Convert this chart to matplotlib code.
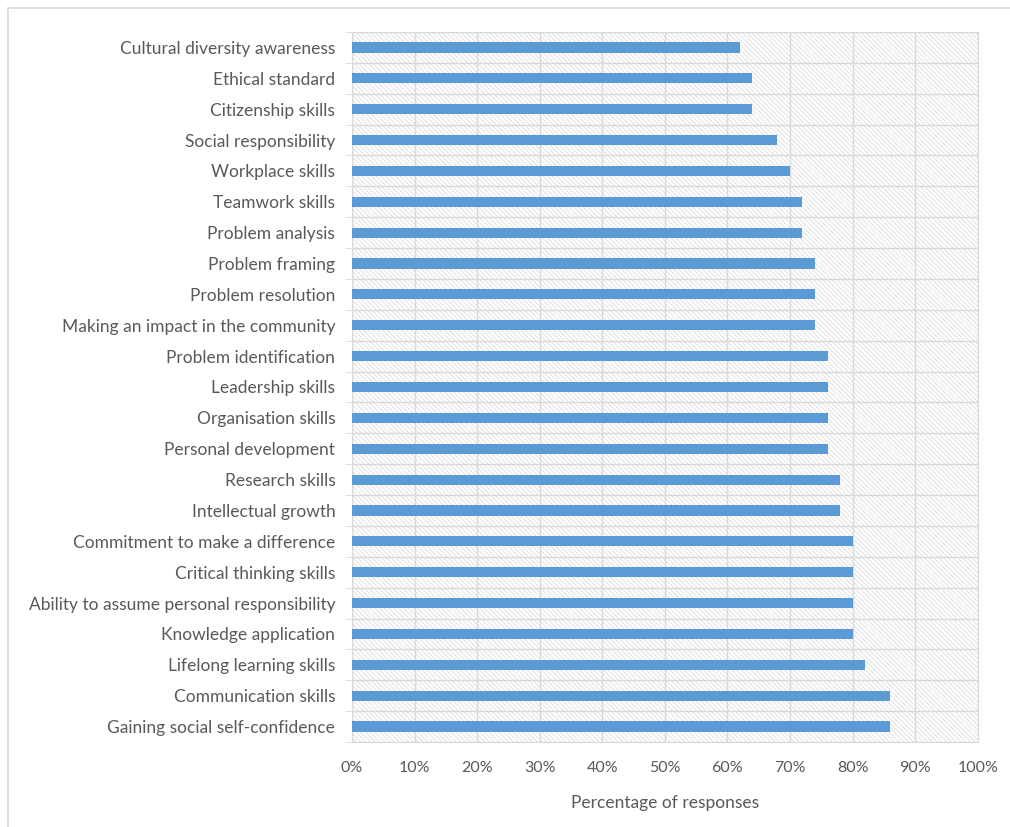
import matplotlib.pyplot as plt
import matplotlib.patches as mpatches
import numpy as np

# categories from top to bottom as shown
skills = ["Cultural diversity awareness", "Ethical standard", "Citizenship skills",
          "Social responsibility", "Workplace skills", "Teamwork skills",
          "Problem analysis", "Problem framing", "Problem resolution",
          "Making an impact in the community", "Problem identification",
          "Leadership skills", "Organisation skills", "Personal development",
          "Research skills", "Intellectual growth", "Commitment to make a difference",
          "Critical thinking skills", "Ability to assume personal responsibility",
          "Knowledge application", "Lifelong learning skills", "Communication skills",
          "Gaining social self-confidence"]
pct = [62, 64, 64, 68, 70, 72, 72, 74, 74, 74, 76, 76, 76, 76, 78, 78,
       80, 80, 80, 80, 82, 86, 86]
xticks = list(range(0, 101, 10))

plt.rcParams['font.family'] = ['Lato', 'DejaVu Sans']
plt.rcParams['hatch.linewidth'] = 0.7
text_col = '#595959'
grid_col = '#d9d9d9'

fig = plt.figure(figsize=(10.10, 8.27), dpi=100)
ax = fig.add_axes([0.3485, 0.1028, 0.6195, 0.8585])

# outer chart border
fig.patches.append(mpatches.Rectangle((8/1010, -0.01), 1.1, 1 - 8/827 + 0.01,
                                      transform=fig.transFigure, fill=False,
                                      edgecolor=grid_col, linewidth=1.2))

n = len(skills)
y = np.arange(n)[::-1]

# hatched plot background
bg = mpatches.Rectangle((0, 0), 1, 1, transform=ax.transAxes, facecolor='white',
                        edgecolor='#e0e0e0', hatch='\\' * 7, linewidth=0, zorder=0)
ax.add_patch(bg)

ax.barh(y, pct, height=0.33, color='#5b9bd5', zorder=3)

ax.set_xlim(0, 100)
ax.set_ylim(-0.5, n - 0.5)
ax.set_xticks(xticks)
ax.set_xticklabels([f"{v}%" for v in xticks])
ax.set_yticks(y)
ax.set_yticklabels(skills)
ax.set_yticks(np.arange(-0.5, n, 1), minor=True)

ax.grid(axis='x', which='major', color=grid_col, linewidth=1, zorder=1)
ax.grid(axis='y', which='minor', color=grid_col, linewidth=1, zorder=1)
ax.tick_params(axis='both', which='major', length=0, labelcolor=text_col)
ax.tick_params(axis='y', which='major', pad=12, labelsize=12.5)
ax.tick_params(axis='x', which='major', pad=14, labelsize=11.5)
ax.tick_params(axis='y', which='minor', length=5, color=grid_col)
ax.tick_params(axis='x', which='minor', length=0)

for s in ax.spines.values():
    s.set_color(grid_col)

ax.set_xlabel("Percentage of responses", fontsize=12.5, color=text_col, labelpad=14)

fig.savefig("out.png", dpi=100)
